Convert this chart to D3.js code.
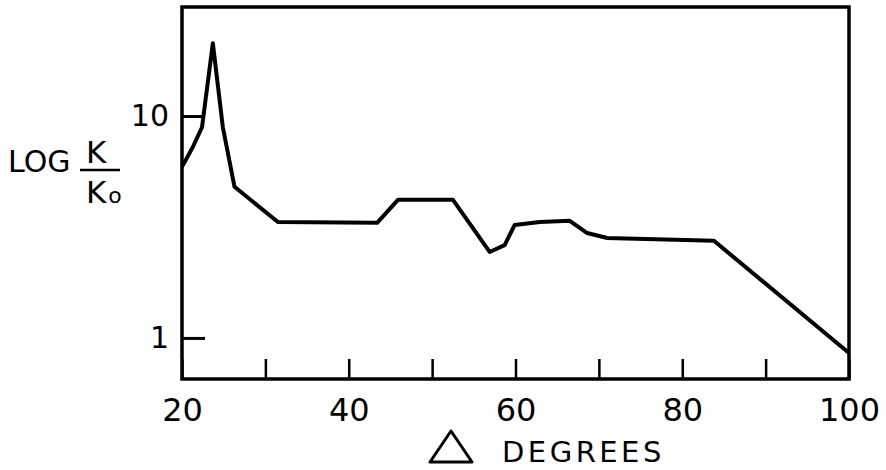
<!DOCTYPE html>
<html>
<head>
<meta charset="utf-8">
<script src="https://cdn.jsdelivr.net/npm/d3@7"></script>
<style>
  body { margin: 0; background: #fff; }
  text { font-family: "DejaVu Sans", sans-serif; fill: #000; }
</style>
</head>
<body>
<div id="chart"></div>
<script>
// angle (degrees) and K/K0
const degrees = [20, 21.3, 22.4, 23.7, 24.9, 26.3, 31.5, 43.4, 45.9, 52.5, 56.9, 58.7, 59.9, 62.9, 66.5, 68.6, 71.0, 83.8, 100];
const ratio   = [5.9, 7.25, 8.9, 21.3, 8.9, 4.8, 3.33, 3.3, 4.19, 4.19, 2.44, 2.62, 3.23, 3.33, 3.37, 2.97, 2.82, 2.74, 0.856];
const xTicks = [20, 30, 40, 50, 60, 70, 80, 90, 100];
const xLabels = [20, 40, 60, 80, 100];
const yTicks = [1, 10];

const width = 886, height = 470;
const mLeft = 182, mRight = 849, mTop = 7, mBottom = 379;

const svg = d3.select('#chart')
    .append('svg')
    .attr('width', width)
    .attr('height', height);

const x = d3.scaleLinear().domain([20, 100]).range([mLeft, mRight]);
const y = d3.scaleLog().domain([0.653, 31]).range([mBottom, mTop]);

// x axis, ticks pointing inward
const xAxis = svg.append('g')
    .attr('transform', `translate(0,${mBottom})`)
    .call(d3.axisBottom(x)
        .tickValues(xTicks)
        .tickSize(-20)
        .tickPadding(19)
        .tickFormat(d => xLabels.indexOf(d) >= 0 ? d : ''));
xAxis.select('.domain').remove();
xAxis.selectAll('line').attr('stroke', '#000').attr('stroke-width', 2.5);
xAxis.selectAll('text').style('font-size', '32px');

// y axis
const yAxis = svg.append('g')
    .attr('transform', `translate(${mLeft},0)`)
    .call(d3.axisLeft(y)
        .tickValues(yTicks)
        .tickSize(-23)
        .tickPadding(13)
        .tickFormat(d3.format('d')));
yAxis.select('.domain').remove();
yAxis.selectAll('line').attr('stroke', '#000').attr('stroke-width', 3);
yAxis.selectAll('text').style('font-size', '30px');

// frame
svg.append('rect')
    .attr('x', mLeft)
    .attr('y', mTop)
    .attr('width', mRight - mLeft)
    .attr('height', mBottom - mTop)
    .attr('fill', 'none')
    .attr('stroke', '#000')
    .attr('stroke-width', 3.5);

// the curve
const line = d3.line()
    .x((d, i) => x(degrees[i]))
    .y((d, i) => y(ratio[i]));

svg.append('path')
    .datum(degrees)
    .attr('d', line)
    .attr('fill', 'none')
    .attr('stroke', '#000')
    .attr('stroke-width', 4)
    .attr('stroke-linejoin', 'round');

// y label: LOG K/K0
svg.append('text')
    .attr('x', 8).attr('y', 172)
    .style('font-size', '30px')
    .text('LOG');
svg.append('line')
    .attr('x1', 80).attr('x2', 120)
    .attr('y1', 170).attr('y2', 170)
    .attr('stroke', '#000').attr('stroke-width', 2.5);
svg.append('text')
    .attr('x', 86).attr('y', 163)
    .style('font-size', '31px')
    .text('K');
const k0 = svg.append('text')
    .attr('x', 86).attr('y', 203)
    .style('font-size', '31px');
k0.append('tspan').text('K');
k0.append('tspan').attr('dx', 2).style('font-size', '22px').text('o');

// x label: triangle DEGREES
svg.append('path')
    .attr('d', d3.line()([[451, 431], [472, 462], [430, 462]]) + 'Z')
    .attr('fill', 'none')
    .attr('stroke', '#000')
    .attr('stroke-width', 3)
    .attr('stroke-linejoin', 'round');
svg.append('text')
    .attr('x', 502).attr('y', 462)
    .style('font-size', '29px')
    .style('letter-spacing', '3.5px')
    .text('DEGREES');
</script>
</body>
</html>
